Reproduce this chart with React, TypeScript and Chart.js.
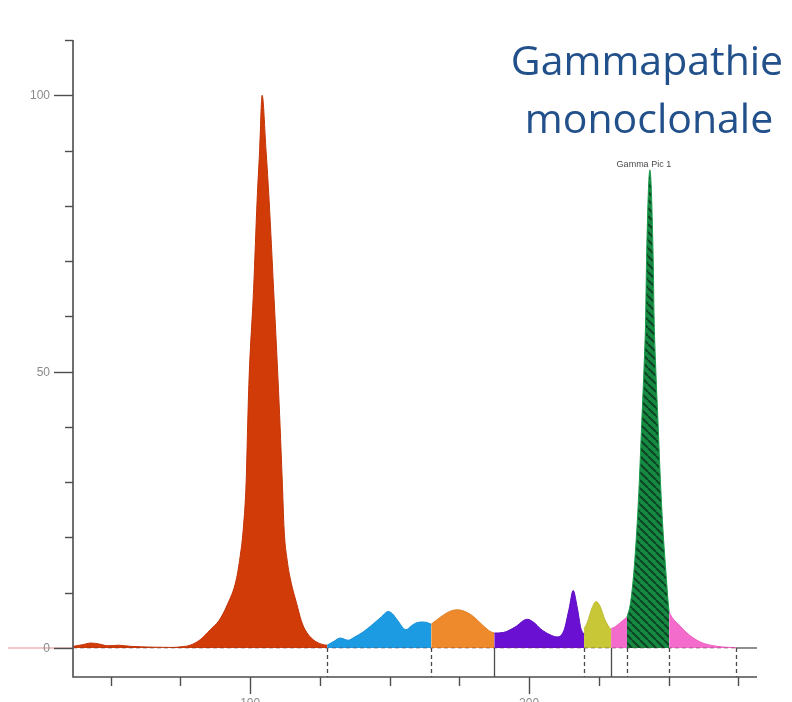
import React, { useEffect, useRef } from "react";
import { Chart, registerables } from "chart.js";

Chart.register(...registerables);

// ---- data (x: migration units, y: relative intensity) ----
const albumin: [number, number][] = [
  [36.6, 0.3], [40, 0.6], [43, 0.9], [46, 0.7], [49, 0.4], [53, 0.5], [57, 0.3], [65, 0.15],
  [72, 0.1], [76, 0.25], [78.5, 0.5], [82.1, 1.5], [85.7, 3.3], [88.9, 5.0], [91.8, 7.8],
  [95, 12.3], [96.4, 16.5], [97.5, 21.3], [98.6, 30.4], [99.1, 40], [99.6, 48.5], [101.25, 65],
  [102.5, 81], [103.4, 90], [104.3, 100], [105.7, 90], [106.8, 81], [108.4, 65], [110, 48.5],
  [110.75, 40], [111.5, 30.4], [112.2, 21.3], [113.3, 15.8], [114.5, 12.3], [116.8, 7.8],
  [118.3, 5], [119.7, 3.3], [122.6, 1.5], [126.2, 0.6], [127.6, 0.5],
];
const alpha1: [number, number][] = [
  [127.6, 0.5], [130, 1.2], [132.3, 1.8], [135.1, 1.4], [137.5, 2.0], [140.5, 2.9], [144, 4.3],
  [147, 5.6], [149.5, 6.6], [151, 6.2], [152.7, 5.1], [155.9, 3.3], [157.5, 3.9], [159.9, 4.6],
  [162, 4.7], [163.4, 4.6], [164.9, 4.3],
];
const alpha2: [number, number][] = [
  [164.9, 4.3], [168, 5.5], [171.5, 6.6], [174.2, 6.9], [177, 6.6], [180, 5.7], [183, 4.3],
  [186, 3.0], [187.5, 2.7],
];
const beta1: [number, number][] = [
  [187.5, 2.7], [190.7, 2.8], [195, 3.8], [199.3, 5.2], [202, 4.5], [204, 3.5], [207.5, 2.4],
  [210, 2.0], [212.5, 3.2], [214.3, 7.0], [215.8, 10.4], [217.2, 7.5], [218.6, 3.5], [219.7, 2.5],
];
const beta2: [number, number][] = [
  [219.7, 3.5], [220.8, 4.5], [222.6, 7.3], [224, 8.4], [225.4, 7.6], [227.2, 5.1], [229.4, 3.2],
];
const gammaLeft: [number, number][] = [
  [229.4, 3.5], [231, 3.9], [233, 4.7], [235.1, 5.6],
];
const gammaPeak: [number, number][] = [
  [235.1, 5.6], [236.3, 8], [237.6, 14], [238.8, 23], [239.5, 30], [240.4, 41], [241.3, 52],
  [241.8, 60], [242.1, 70], [243.3, 86.5], [244.5, 70], [244.8, 60], [245.3, 52], [246.2, 41],
  [247.1, 30], [247.8, 23], [249.0, 14], [249.9, 8], [250.2, 6.5],
];
const gammaRight: [number, number][] = [
  [250.2, 6.5], [251.3, 5.5], [254.1, 4.0], [256.6, 2.7], [261.3, 1.1], [267.4, 0.3], [274.2, 0.05],
];
const baselineTail: [number, number][] = [[274.2, 0], [281.7, 0]];

const fractionBounds = [127.6, 164.9, 187.5, 219.7, 229.4, 235.1, 250.2, 274.2];
const boundSolid = [false, false, true, false, true, false, false, false];

const yMajorTicks = [0, 50, 100];
const yMajorLabels = ["0", "50", "100"];
const yMinorTicks = [10, 20, 30, 40, 60, 70, 80, 90, 110];
const xTicks = [50, 75, 100, 125, 150, 175, 200, 225, 250, 275];
const xMajorTicks = [100, 200];
const xMajorLabels = ["100", "200"];

const titleLines = ["Gammapathie", "monoclonale"];
const peakLabel = "Gamma Pic 1";
const peakLabelX = 243.3;
const peakLabelY = 86.5;

const X_MIN = 36.5;
const X_MAX = 281.7;
const Y_MIN = -5.25;
const Y_MAX = 110;

function makeHatch(): CanvasPattern | string {
  const c = document.createElement("canvas");
  c.width = 8;
  c.height = 8;
  const g = c.getContext("2d");
  if (!g) return "#13803e";
  g.fillStyle = "#168a42";
  g.fillRect(0, 0, 8, 8);
  g.strokeStyle = "#0d4423";
  g.lineWidth = 2;
  g.beginPath();
  for (let k = -1; k <= 1; k++) {
    g.moveTo(k * 8, 0);
    g.lineTo(k * 8 + 8, 8);
  }
  g.stroke();
  const p = g.createPattern(c, "repeat");
  return p || "#13803e";
}

const toXY = (pts: [number, number][]) => pts.map(([x, y]) => ({ x, y }));

export default function App() {
  const ref = useRef<HTMLCanvasElement | null>(null);

  useEffect(() => {
    const canvas = ref.current;
    if (!canvas) return;
    const hatch = makeHatch();

    const area = (data: [number, number][], fill: any, border: string) => ({
      type: "line" as const,
      data: toXY(data),
      backgroundColor: fill,
      borderColor: border,
      borderWidth: 1,
      pointRadius: 0,
      fill: "origin",
      cubicInterpolationMode: "monotone" as const,
    });

    const axesPlugin = {
      id: "electroAxes",
      afterDatasetsDraw(chart: any) {
        const ctx: CanvasRenderingContext2D = chart.ctx;
        const xs = chart.scales.x;
        const ys = chart.scales.y;
        const ca = chart.chartArea;
        const y0 = ys.getPixelForValue(0);
        ctx.save();

        // faint pink zero line left of the axis
        ctx.strokeStyle = "rgba(225,120,120,0.55)";
        ctx.lineWidth = 1.5;
        ctx.beginPath();
        ctx.moveTo(8, y0);
        ctx.lineTo(ca.left, y0);
        ctx.stroke();

        // dashed baseline under fractions
        ctx.strokeStyle = "rgba(90,30,30,0.45)";
        ctx.lineWidth = 1.2;
        ctx.setLineDash([4, 3]);
        ctx.beginPath();
        ctx.moveTo(ca.left, y0);
        ctx.lineTo(xs.getPixelForValue(fractionBounds[fractionBounds.length - 1]), y0);
        ctx.stroke();
        ctx.setLineDash([]);

        // fraction boundaries
        ctx.strokeStyle = "#4a4a4a";
        ctx.lineWidth = 1.3;
        fractionBounds.forEach((b, i) => {
          const px = Math.round(xs.getPixelForValue(b)) + 0.5;
          ctx.setLineDash(boundSolid[i] ? [] : [4, 3]);
          ctx.beginPath();
          ctx.moveTo(px, y0);
          ctx.lineTo(px, ca.bottom);
          ctx.stroke();
        });
        ctx.setLineDash([]);

        // axes lines
        ctx.strokeStyle = "#4d4d4d";
        ctx.lineWidth = 1.6;
        ctx.beginPath();
        ctx.moveTo(ca.left, ca.top);
        ctx.lineTo(ca.left, ca.bottom);
        ctx.lineTo(ca.right, ca.bottom);
        ctx.stroke();

        // y ticks
        ctx.lineWidth = 1.4;
        yMinorTicks.forEach((v) => {
          const py = Math.round(ys.getPixelForValue(v)) + 0.5;
          ctx.beginPath();
          ctx.moveTo(ca.left - 8, py);
          ctx.lineTo(ca.left, py);
          ctx.stroke();
        });
        ctx.fillStyle = "#8a8a8a";
        ctx.font = "12px 'Liberation Sans', Arial, sans-serif";
        ctx.textAlign = "right";
        ctx.textBaseline = "middle";
        yMajorTicks.forEach((v, i) => {
          const py = Math.round(ys.getPixelForValue(v)) + 0.5;
          ctx.beginPath();
          ctx.moveTo(ca.left - 19, py);
          ctx.lineTo(ca.left, py);
          ctx.stroke();
          ctx.fillText(yMajorLabels[i], ca.left - 23, py);
        });

        // x ticks
        xTicks.forEach((v) => {
          const px = Math.round(xs.getPixelForValue(v)) + 0.5;
          const major = xMajorTicks.includes(v);
          ctx.beginPath();
          ctx.moveTo(px, ca.bottom);
          ctx.lineTo(px, ca.bottom + (major ? 17 : 9));
          ctx.stroke();
        });
        ctx.textAlign = "center";
        ctx.textBaseline = "top";
        xMajorTicks.forEach((v, i) => {
          ctx.fillText(xMajorLabels[i], xs.getPixelForValue(v), ca.bottom + 21);
        });

        // peak label
        ctx.fillStyle = "#4a4a4a";
        ctx.font = "9px 'Liberation Sans', Arial, sans-serif";
        ctx.textBaseline = "bottom";
        ctx.fillText(peakLabel, xs.getPixelForValue(peakLabelX) - 6, ys.getPixelForValue(peakLabelY) - 1);

        // title
        ctx.fillStyle = "#22508a";
        ctx.font = "41px 'Open Sans', sans-serif";
        ctx.textBaseline = "alphabetic";
        ctx.fillText(titleLines[0], 647, 75);
        ctx.fillText(titleLines[1], 649, 133);

        ctx.restore();
      },
    };

    const chart = new Chart(canvas, {
      type: "line",
      data: {
        datasets: [
          area(albumin, "#d13b08", "#c23306"),
          area(alpha1, "#1c9be2", "#1990d6"),
          area(alpha2, "#ee8a2b", "#e07f24"),
          area(beta1, "#6a10d2", "#5e0cc0"),
          area(beta2, "#c8c738", "#bdbc30"),
          area(gammaLeft, "#f46ccb", "#ee60c2"),
          area(gammaPeak, hatch, "#1a9a4a"),
          area(gammaRight, "#f46ccb", "#ee60c2"),
          {
            type: "line",
            data: toXY(baselineTail),
            borderColor: "#6a6a6a",
            borderWidth: 1.5,
            pointRadius: 0,
            fill: false,
          },
        ] as any,
      },
      options: {
        responsive: false,
        animation: false,
        devicePixelRatio: 1,
        layout: { padding: { left: 73, right: 35, top: 40, bottom: 25 } },
        scales: {
          x: { type: "linear", min: X_MIN, max: X_MAX, display: false },
          y: { type: "linear", min: Y_MIN, max: Y_MAX, display: false },
        },
        plugins: { legend: { display: false }, tooltip: { enabled: false } },
        elements: { line: { tension: 0.4 } },
      },
      plugins: [axesPlugin],
    });

    return () => chart.destroy();
  }, []);

  return (
    <div style={{ position: "fixed", left: 0, top: 0, width: 792, height: 702, background: "#fff" }}>
      <canvas ref={ref} width={792} height={702} style={{ display: "block" }} />
    </div>
  );
}
